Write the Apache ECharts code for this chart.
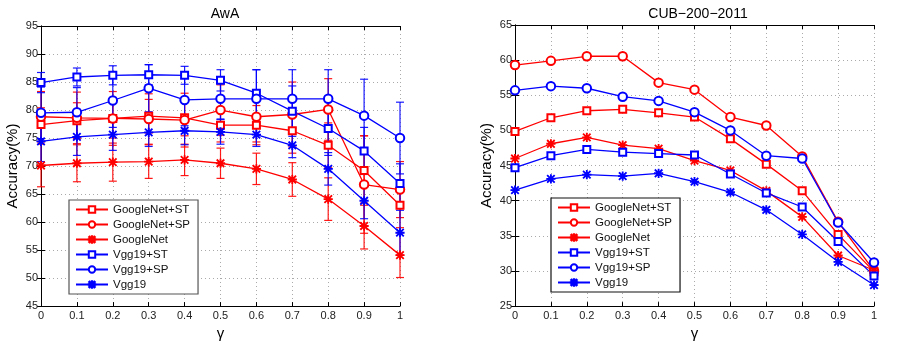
<!DOCTYPE html>
<html>
<head>
<meta charset="utf-8">
<script src="https://cdn.jsdelivr.net/npm/echarts@6/dist/echarts.min.js"></script>
<style>
html,body{margin:0;padding:0;background:#fff;}
#chart{width:900px;height:346px;}
</style>
</head>
<body>
<div id="chart"></div>
<script>
// ---------- DATA ----------
const gammas = [0, 0.1, 0.2, 0.3, 0.4, 0.5, 0.6, 0.7, 0.8, 0.9, 1];
const seriesNames = ['GoogleNet+ST', 'GoogleNet+SP', 'GoogleNet', 'Vgg19+ST', 'Vgg19+SP', 'Vgg19'];
const awaYTicks = [45, 95, 5];
const cubYTicks = [25, 65, 5];

// AwA means
const awaGoogleNetST = [77.4, 78.1, 78.5, 78.9, 78.6, 77.3, 77.3, 76.3, 73.7, 69.2, 63.0];
const awaGoogleNetSP = [78.8, 78.6, 78.5, 78.4, 78.2, 80.0, 78.8, 79.2, 80.1, 66.7, 65.8];
const awaGoogleNet   = [70.1, 70.5, 70.7, 70.8, 71.1, 70.5, 69.5, 67.6, 64.1, 59.3, 54.1];
const awaVggST       = [84.9, 85.9, 86.2, 86.3, 86.2, 85.3, 83.0, 79.8, 76.7, 72.7, 66.9];
const awaVggSP       = [79.5, 79.6, 81.7, 83.9, 81.8, 82.0, 82.0, 82.0, 82.0, 79.0, 75.0];
const awaVgg         = [74.4, 75.2, 75.6, 76.0, 76.3, 76.1, 75.6, 73.7, 69.5, 63.8, 58.1];

// AwA error half-widths
const awaErrGoogleNetST = [3.0, 3.2, 3.5, 3.0, 3.2, 3.0, 3.5, 4.0, 4.0, 6.2, 4.0];
const awaErrGoogleNetSP = [4.5, 4.6, 4.8, 4.5, 4.8, 4.5, 4.5, 5.8, 5.5, 8.7, 5.0];
const awaErrGoogleNet   = [3.8, 3.3, 3.4, 3.0, 2.8, 2.7, 2.8, 3.0, 3.8, 4.1, 4.0];
const awaErrVggST       = [1.8, 1.6, 1.7, 1.8, 1.6, 1.9, 4.2, 4.5, 4.8, 4.2, 3.5];
const awaErrVggSP       = [4.6, 4.4, 4.8, 4.2, 4.6, 3.6, 5.2, 5.2, 5.2, 6.5, 6.4];
const awaErrVgg         = [3.6, 3.3, 2.8, 2.5, 2.5, 2.2, 2.1, 2.2, 2.9, 3.2, 4.0];

// CUB means
const cubGoogleNetST = [49.85, 51.8, 52.8, 53.0, 52.5, 51.9, 48.8, 45.2, 41.4, 35.2, 29.9];
const cubGoogleNetSP = [59.3, 59.9, 60.55, 60.55, 56.8, 55.8, 51.9, 50.7, 46.3, 37.0, 30.0];
const cubGoogleNet   = [46.0, 48.1, 49.0, 47.9, 47.4, 45.7, 44.3, 41.4, 37.7, 32.2, 30.1];
const cubVggST       = [44.7, 46.4, 47.3, 46.9, 46.7, 46.5, 43.8, 41.1, 39.1, 34.2, 29.3];
const cubVggSP       = [55.7, 56.3, 56.0, 54.8, 54.2, 52.6, 50.0, 46.4, 46.0, 36.9, 31.2];
const cubVgg         = [41.5, 43.1, 43.7, 43.5, 43.9, 42.7, 41.2, 38.7, 35.2, 31.3, 28.0];

// ---------- STYLE ----------
const RED = '#ff0000', BLUE = '#0000ff';
const STAR = 'path://M9.2 0H10.8V20H9.2Z M0 9.2H20V10.8H0Z M2.2 1.1L18.9 17.8L17.8 18.9L1.1 2.2Z M17.8 1.1L18.9 2.2L2.2 18.9L1.1 17.8Z';
const FONT = 'Liberation Sans, Arial, Helvetica, sans-serif';

const styles = [
  {color: RED, symbol: 'emptyRect', size: 7},
  {color: RED, symbol: 'emptyCircle', size: 8.5},
  {color: RED, symbol: STAR, size: 8},
  {color: BLUE, symbol: 'emptyRect', size: 7},
  {color: BLUE, symbol: 'emptyCircle', size: 8.5},
  {color: BLUE, symbol: STAR, size: 8}
];

const awaMeans = [awaGoogleNetST, awaGoogleNetSP, awaGoogleNet, awaVggST, awaVggSP, awaVgg];
const awaErrs = [awaErrGoogleNetST, awaErrGoogleNetSP, awaErrGoogleNet, awaErrVggST, awaErrVggSP, awaErrVgg];
const cubMeans = [cubGoogleNetST, cubGoogleNetSP, cubGoogleNet, cubVggST, cubVggSP, cubVgg];

function pairs(vals) { return gammas.map((g, i) => [g, vals[i]]); }

function errSeries(vals, errs, color, axisIdx) {
  return {
    type: 'custom',
    xAxisIndex: axisIdx, yAxisIndex: axisIdx,
    z: 1,
    silent: true,
    encode: {x: 0, y: [1, 2]},
    data: gammas.map((g, i) => [g, vals[i] - errs[i], vals[i] + errs[i]]),
    renderItem: function (params, api) {
      const x = api.value(0);
      const lo = api.coord([x, api.value(1)]);
      const hi = api.coord([x, api.value(2)]);
      const w = 4;
      const st = {stroke: color, lineWidth: 1.2, opacity: 0.9};
      return {type: 'group', children: [
        {type: 'line', shape: {x1: lo[0], y1: lo[1], x2: hi[0], y2: hi[1]}, style: st},
        {type: 'line', shape: {x1: lo[0] - w, y1: lo[1], x2: lo[0] + w, y2: lo[1]}, style: st},
        {type: 'line', shape: {x1: hi[0] - w, y1: hi[1], x2: hi[0] + w, y2: hi[1]}, style: st}
      ]};
    }
  };
}

function lineSeries(name, vals, st, axisIdx) {
  return {
    name: name, type: 'line',
    xAxisIndex: axisIdx, yAxisIndex: axisIdx,
    z: 3,
    data: pairs(vals),
    symbol: st.symbol, symbolSize: st.size, symbolKeepAspect: true,
    showAllSymbol: true,
    color: st.color,
    lineStyle: {color: st.color, width: 1.3},
    itemStyle: {color: st.color, borderColor: st.color, borderWidth: 1.2},
    animation: false
  };
}

const series = [];
awaMeans.forEach((v, i) => series.push(errSeries(v, awaErrs[i], styles[i].color, 0)));
awaMeans.forEach((v, i) => series.push(lineSeries(seriesNames[i], v, styles[i], 0)));
cubMeans.forEach((v, i) => series.push(lineSeries(seriesNames[i], v, styles[i], 2)));

const fmtX = v => String(Math.round(v * 10) / 10);

function xAxes(gridIndex) {
  return [
    {type: 'value', gridIndex, min: gammas[0], max: gammas[gammas.length - 1], interval: 0.1,
     position: 'bottom',
     name: 'γ', nameLocation: 'middle', nameGap: 18,
     nameTextStyle: {fontFamily: FONT, fontSize: 15, color: '#000'},
     axisLine: {lineStyle: {color: '#000', width: 1}},
     axisTick: {inside: true, length: 4, lineStyle: {color: '#000'}},
     axisLabel: {formatter: fmtX, fontFamily: FONT, fontSize: 11, color: '#222', margin: 4},
     splitLine: {show: true, lineStyle: {color: '#aaa', type: [1, 3], width: 1}}},
    {type: 'value', gridIndex, min: gammas[0], max: gammas[gammas.length - 1], interval: 0.1,
     position: 'top',
     axisLine: {lineStyle: {color: '#000', width: 1}},
     axisTick: {inside: true, length: 4, lineStyle: {color: '#000'}},
     axisLabel: {show: false}, splitLine: {show: false}}
  ];
}
function yAxes(gridIndex, ticks) {
  return [
    {type: 'value', gridIndex, min: ticks[0], max: ticks[1], interval: ticks[2],
     position: 'left',
     name: 'Accuracy(%)', nameLocation: 'middle', nameGap: 21, nameRotate: 90,
     nameTextStyle: {fontFamily: FONT, fontSize: 15, color: '#000'},
     axisLine: {show: true, lineStyle: {color: '#000', width: 1}},
     axisTick: {show: true, inside: true, length: 4, lineStyle: {color: '#000'}},
     axisLabel: {fontFamily: FONT, fontSize: 11, color: '#222', margin: 3},
     splitLine: {show: true, lineStyle: {color: '#aaa', type: [1, 3], width: 1}}},
    {type: 'value', gridIndex, min: ticks[0], max: ticks[1], interval: ticks[2],
     position: 'right',
     axisLine: {show: true, lineStyle: {color: '#000', width: 1}},
     axisTick: {show: true, inside: true, length: 4, lineStyle: {color: '#000'}},
     axisLabel: {show: false}, splitLine: {show: false}}
  ];
}

const xa0 = xAxes(0), xa1 = xAxes(1);
const ya0 = yAxes(0, awaYTicks), ya1 = yAxes(1, cubYTicks);

function legend(left, top, borderColor) {
  return {
    data: seriesNames,
    orient: 'vertical', left: left, top: top,
    itemWidth: 32, itemHeight: 8, itemGap: 0,
    backgroundColor: '#fff', borderColor: borderColor, borderWidth: 1.2,
    padding: [2, 8, 2, 6],
    selectedMode: false,
    textStyle: {fontFamily: FONT, fontSize: 11.5, color: '#111', lineHeight: 15}
  };
}

const option = {
  animation: false,
  backgroundColor: '#fff',
  title: [
    {text: 'AwA', left: 220, top: 2, textAlign: 'center',
     textStyle: {fontFamily: FONT, fontSize: 14, fontWeight: 'normal', color: '#000'}},
    {text: 'CUB\u2212200\u22122011', left: 693, top: 2, textAlign: 'center',
     textStyle: {fontFamily: FONT, fontSize: 14, fontWeight: 'normal', color: '#000'}}
  ],
  grid: [
    {left: 41, top: 26, width: 359, height: 281},
    {left: 515, top: 25, width: 359, height: 282}
  ],
  xAxis: [xa0[0], xa0[1], xa1[0], xa1[1]],
  yAxis: [ya0[0], ya0[1], ya1[0], ya1[1]],
  legend: [legend(69, 200, '#555'), legend(551, 198, '#111')],
  series: series
};

const chart = echarts.init(document.getElementById('chart'), null, {renderer: 'canvas'});
chart.setOption(option);
</script>
</body>
</html>
